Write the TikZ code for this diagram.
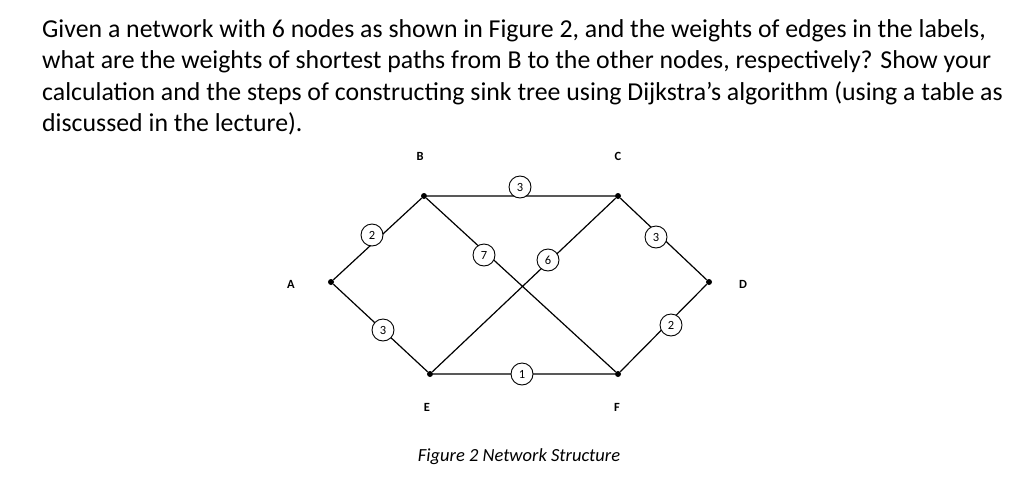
\documentclass[tikz,border=0pt]{standalone}
\usepackage{fontspec}
\setmainfont{Carlito}
\begin{document}
\begin{tikzpicture}[x=1pt,y=-1pt,
  dot/.style={circle,fill=black,inner sep=0pt,minimum size=6pt},
  lab/.style={font=\fontsize{12.5}{14}\selectfont\bfseries},
  w/.style={circle,draw,line width=0.9pt,fill=white,inner sep=0pt,minimum size=22pt,font=\fontsize{12.5}{14}\selectfont},
  txt/.style={anchor=west,inner sep=0pt,font=\fontsize{25.8}{30}\selectfont},
  edge/.style={line width=1.2pt}]
\useasboundingbox (0,0) rectangle (1035,498);
\node[txt] (l1) at (42,31) {Given a network with 6 nodes as shown in Figure 2, and the weights of edges in the labels,};
\node[txt] (l2) at (42,62) {what are the weights of shortest paths from B to the other nodes, respectively? Show your};
\node[txt] (l3) at (42,93) {calculation and the steps of constructing sink tree using Dijkstra’s algorithm (using a table as};
\node[txt] (l4) at (42,124) {discussed in the lecture).};
\node[dot] (A) at (331,282) {};
\node[dot] (B) at (424,196) {};
\node[dot] (C) at (618,196) {};
\node[dot] (D) at (709,282) {};
\node[dot] (E) at (430,374) {};
\node[dot] (F) at (618,374) {};
\node[lab] (lA) at (291,284) {A};
\node[lab] (lB) at (420,156) {B};
\node[lab] (lC) at (618,156) {C};
\node[lab] (lD) at (743,284) {D};
\node[lab] (lE) at (427,407) {E};
\node[lab] (lF) at (617,407) {F};
\draw[edge] (A)--(B) (A)--(E) (B)--(C) (C)--(D) (F)--(D) (E)--(F) (B)--(F) (E)--(C);
\node[w] (wBC) at (520,187) {3};
\node[w] (wAB) at (372,235) {2};
\node[w] (wAE) at (383,330) {3};
\node[w] (wBF) at (484,255) {7};
\node[w] (wEC) at (548,260) {6};
\node[w] (wEF) at (522,374) {1};
\node[w] (wCD) at (656,237) {3};
\node[w] (wFD) at (671,325) {2};
\node[font=\fontsize{18.5}{20}\selectfont\itshape] (cap) at (519,457) {Figure 2 Network Structure};
\end{tikzpicture}
\end{document}
